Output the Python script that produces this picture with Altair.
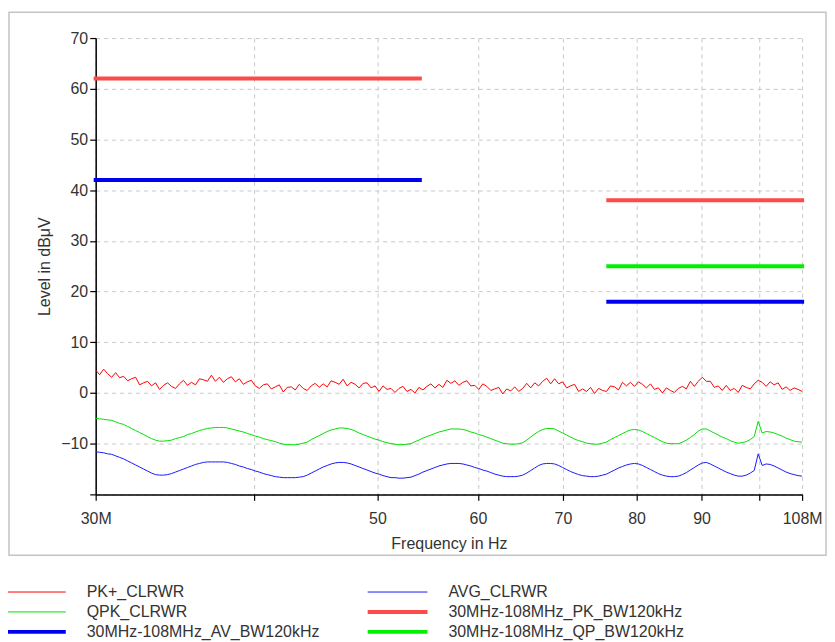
import altair as alt
import numpy as np
import pandas as pd

# sweep grid (MHz), 178 points across 30..108 MHz
freq_mhz = np.geomspace(30, 108, 178)

pk_levels = [4.5, 3.6, 4.7, 3.8, 3.1, 4.0, 3.0, 3.3, 2.4, 2.8, 3.1, 1.6, 2.0, 2.3, 1.4, 2.0, 0.7, 1.5, 2.0, 1.3,
             0.9, 1.8, 2.5, 1.5, 2.1, 1.6, 2.8, 2.6, 2.3, 3.5, 2.3, 3.1, 2.1, 2.8, 3.2, 2.2, 2.8, 1.7, 2.2, 2.5,
             1.4, 0.9, 1.6, 1.8, 0.8, 1.2, 1.6, 0.2, 1.1, 1.2, 0.6, 1.7, 0.9, 0.5, 1.4, 1.9, 1.1, 1.8, 1.2, 2.4,
             2.1, 1.7, 2.7, 1.4, 2.1, 1.7, 1.0, 1.9, 2.0, 1.0, 1.4, 0.3, 1.4, 0.7, 0.9, 0.1, 0.9, 1.3, 0.3, 0.7,
             0.0, 1.1, 0.6, 1.3, 1.8, 1.0, 1.7, 1.1, 2.5, 1.9, 2.4, 1.5, 2.1, 2.4, 1.4, 1.5, 0.7, 1.8, 1.3, 0.5,
             0.8, 1.1, -0.2, 0.8, 0.4, 1.2, 0.3, 0.9, 1.9, 1.0, 2.0, 1.4, 2.3, 2.9, 1.8, 2.8, 1.8, 2.2, 1.0, 1.4,
             1.7, 0.3, 0.8, 0.3, 1.1, -0.1, 0.9, 0.5, 0.3, 1.4, 1.2, 0.6, 2.1, 1.4, 2.1, 1.3, 2.2, 1.7, 1.0, 1.8,
             0.7, 1.0, 0.0, 1.0, 0.5, 0.1, 0.9, 1.3, 0.8, 2.3, 1.3, 2.3, 3.1, 2.3, 2.3, 1.1, 1.4, 0.5, 1.5, 0.5,
             0.9, 0.1, 1.5, 1.1, 0.8, 1.8, 2.5, 2.1, 1.3, 2.2, 1.6, 2.0, 0.7, 1.2, 0.5, 1.0, 0.7, 0.3]

qpk_levels = [-5.0, -5.1, -5.2, -5.3, -5.4, -5.7, -6.0, -6.2, -6.6, -7.0, -7.4, -7.8, -8.2, -8.6, -9.0, -9.3, -9.5, -9.5, -9.4, -9.3,
              -9.0, -8.8, -8.6, -8.2, -8.0, -7.7, -7.4, -7.2, -7.0, -6.9, -6.8, -6.8, -6.8, -6.9, -7.1, -7.3, -7.5, -7.7, -8.0, -8.2,
              -8.5, -8.7, -9.0, -9.2, -9.4, -9.6, -9.9, -10.1, -10.2, -10.2, -10.2, -10.1, -9.9, -9.7, -9.2, -8.8, -8.4, -8.0, -7.6, -7.3,
              -7.1, -6.9, -6.9, -7.0, -7.2, -7.5, -7.9, -8.2, -8.5, -8.8, -9.1, -9.3, -9.6, -9.8, -10.0, -10.1, -10.2, -10.2, -10.1, -10.0,
              -9.6, -9.3, -8.9, -8.6, -8.3, -8.0, -7.7, -7.5, -7.3, -7.1, -7.1, -7.1, -7.2, -7.4, -7.7, -7.9, -8.2, -8.4, -8.7, -9.0,
              -9.3, -9.6, -9.9, -10.0, -10.1, -10.1, -10.0, -9.8, -9.3, -8.7, -8.1, -7.6, -7.2, -7.0, -7.0, -7.1, -7.5, -7.9, -8.3, -8.7,
              -9.1, -9.4, -9.6, -9.9, -10.0, -10.1, -10.1, -9.9, -9.7, -9.2, -8.8, -8.4, -8.0, -7.6, -7.3, -7.2, -7.3, -7.6, -8.0, -8.4,
              -8.8, -9.2, -9.6, -9.9, -10.0, -10.0, -10.0, -9.7, -9.3, -8.8, -8.2, -7.5, -7.1, -7.1, -7.5, -7.9, -8.3, -8.7, -9.0, -9.4,
              -9.7, -9.9, -9.8, -9.6, -9.2, -8.6, -5.6, -7.9, -7.6, -7.7, -7.9, -8.2, -8.5, -8.9, -9.2, -9.5, -9.6, -9.7]

avg_levels = [-11.6, -11.7, -11.8, -12.0, -12.1, -12.4, -12.7, -13.0, -13.4, -13.8, -14.2, -14.6, -15.0, -15.4, -15.8, -16.1, -16.2, -16.2, -16.1, -15.9,
              -15.6, -15.3, -15.0, -14.7, -14.4, -14.1, -13.9, -13.7, -13.6, -13.6, -13.6, -13.6, -13.6, -13.7, -13.9, -14.1, -14.4, -14.6, -14.9, -15.1,
              -15.4, -15.6, -15.9, -16.1, -16.3, -16.5, -16.6, -16.7, -16.7, -16.7, -16.7, -16.6, -16.5, -16.2, -15.8, -15.4, -15.0, -14.6, -14.3, -14.0,
              -13.8, -13.7, -13.7, -13.8, -14.0, -14.3, -14.6, -14.9, -15.2, -15.5, -15.8, -16.0, -16.3, -16.5, -16.7, -16.7, -16.8, -16.8, -16.7, -16.6,
              -16.3, -16.0, -15.6, -15.3, -15.0, -14.7, -14.4, -14.2, -14.0, -13.9, -13.9, -13.9, -14.0, -14.2, -14.4, -14.7, -14.9, -15.2, -15.4, -15.7,
              -16.0, -16.2, -16.4, -16.5, -16.5, -16.5, -16.4, -16.2, -15.8, -15.3, -14.8, -14.3, -14.0, -13.9, -13.9, -14.0, -14.3, -14.7, -15.1, -15.5,
              -15.8, -16.1, -16.3, -16.4, -16.5, -16.5, -16.4, -16.2, -16.0, -15.6, -15.2, -14.8, -14.5, -14.2, -14.0, -13.9, -14.0, -14.3, -14.7, -15.1,
              -15.5, -15.9, -16.2, -16.4, -16.5, -16.5, -16.4, -16.1, -15.7, -15.2, -14.7, -14.2, -13.8, -13.7, -14.0, -14.4, -14.8, -15.2, -15.6, -15.9,
              -16.2, -16.4, -16.4, -16.2, -15.8, -15.3, -12.0, -14.3, -14.0, -14.1, -14.4, -14.8, -15.2, -15.6, -15.9, -16.1, -16.3, -16.4]

# legend order (columns filled top to bottom)
series_names = ["PK+_CLRWR", "QPK_CLRWR", "30MHz-108MHz_AV_BW120kHz",
                "AVG_CLRWR", "30MHz-108MHz_PK_BW120kHz", "30MHz-108MHz_QP_BW120kHz"]
series_colors = ["#ff0000", "#00e000", "#0000f0", "#1a1aff", "#ff4a4a", "#00f000"]
trace_width = 1
limit_width = 4

limit_series = ["30MHz-108MHz_PK_BW120kHz", "30MHz-108MHz_AV_BW120kHz",
                "30MHz-108MHz_PK_BW120kHz", "30MHz-108MHz_QP_BW120kHz", "30MHz-108MHz_AV_BW120kHz"]
limit_start = [30, 30, 76, 76, 76]
limit_end = [54, 54, 108, 108, 108]
limit_level = [62, 42, 38, 25, 18]

x_ticks = [30, 40, 50, 60, 70, 80, 90, 100, 108]
y_ticks = list(range(-20, 75, 5))

FONT = "Liberation Sans"
TXT = "#333333"
FS = 16

traces = pd.concat([
    pd.DataFrame({"freq": freq_mhz, "level": pk_levels, "series": "PK+_CLRWR"}),
    pd.DataFrame({"freq": freq_mhz, "level": qpk_levels, "series": "QPK_CLRWR"}),
    pd.DataFrame({"freq": freq_mhz, "level": avg_levels, "series": "AVG_CLRWR"}),
])
limits = pd.DataFrame({"f1": limit_start, "f2": limit_end, "level": limit_level, "series": limit_series})

x_scale = alt.Scale(type="log", domain=[30, 108], nice=False)
y_scale = alt.Scale(domain=[-20, 70], nice=False, zero=False)
color_scale = alt.Scale(domain=series_names, range=series_colors)

legend = alt.Legend(
    title=None, orient="none", legendX=-68, legendY=548, columns=2,
    symbolType="M-3,0L3,0", symbolSize=400, labelOffset=43, labelLimit=400,
    labelFont=FONT, labelFontSize=FS, labelColor=TXT, columnPadding=40,
    rowPadding=4, padding=0, symbolFillColor="transparent",
    symbolStrokeWidth=alt.expr("test(/BW120kHz/, datum.value) ? 4 : 1"),
)

x_axis = alt.Axis(values=x_ticks, title="Frequency in Hz",
                  labelExpr="datum.value == 30 ? '30M' : datum.value == 108 ? '108M' : (datum.value == 40 || datum.value == 100) ? '' : format(datum.value, 'd')",
                  grid=True, gridDash=[4, 4], gridColor="#c8c8c8", tickSize=6, labelPadding=10,
                  titlePadding=9, labelFlush=False)
y_axis = alt.Axis(values=y_ticks, title="Level in dBμV",
                  labelExpr="(datum.value % 10 == 0 && datum.value > -20) ? format(datum.value, 'd') : ''",
                  grid=True, gridDash=[4, 4], gridColor="#c8c8c8", tickSize=6, labelPadding=2,
                  titlePadding=8)

frame = alt.Chart(alt.Data(values=[{"a": 1}])).mark_rect(
    filled=False, stroke="#c4c4c4", strokeWidth=1.5
).encode(x=alt.value(-87), x2=alt.value(733), y=alt.value(-26), y2=alt.value(519))

lines = alt.Chart(traces).mark_line(clip=True, strokeWidth=trace_width).encode(
    x=alt.X("freq:Q", scale=x_scale, axis=x_axis),
    y=alt.Y("level:Q", scale=y_scale, axis=y_axis),
    color=alt.Color("series:N", scale=color_scale, legend=legend),
    detail="series:N",
)

rules = alt.Chart(limits).mark_rule(strokeCap="square", strokeWidth=limit_width).encode(
    x=alt.X("f1:Q", scale=x_scale),
    x2="f2:Q",
    y=alt.Y("level:Q", scale=y_scale),
    color=alt.Color("series:N", scale=color_scale, legend=legend),
)

chart = alt.layer(frame, lines, rules).properties(
    width=709, height=458,
    autosize=alt.AutoSizeParams(type="none"),
    padding={"left": 88, "top": 29, "right": 25, "bottom": 147},
    background="white",
).configure_view(stroke=None).configure_axis(
    labelFont=FONT, titleFont=FONT, labelFontSize=FS, titleFontSize=FS,
    labelColor=TXT, titleColor=TXT, titleFontWeight="normal",
    domainColor="#000000", tickColor="#000000", domainWidth=1.5, tickWidth=1.2,
)

chart.save("out.html", embed_options={"renderer": "svg", "actions": False})
